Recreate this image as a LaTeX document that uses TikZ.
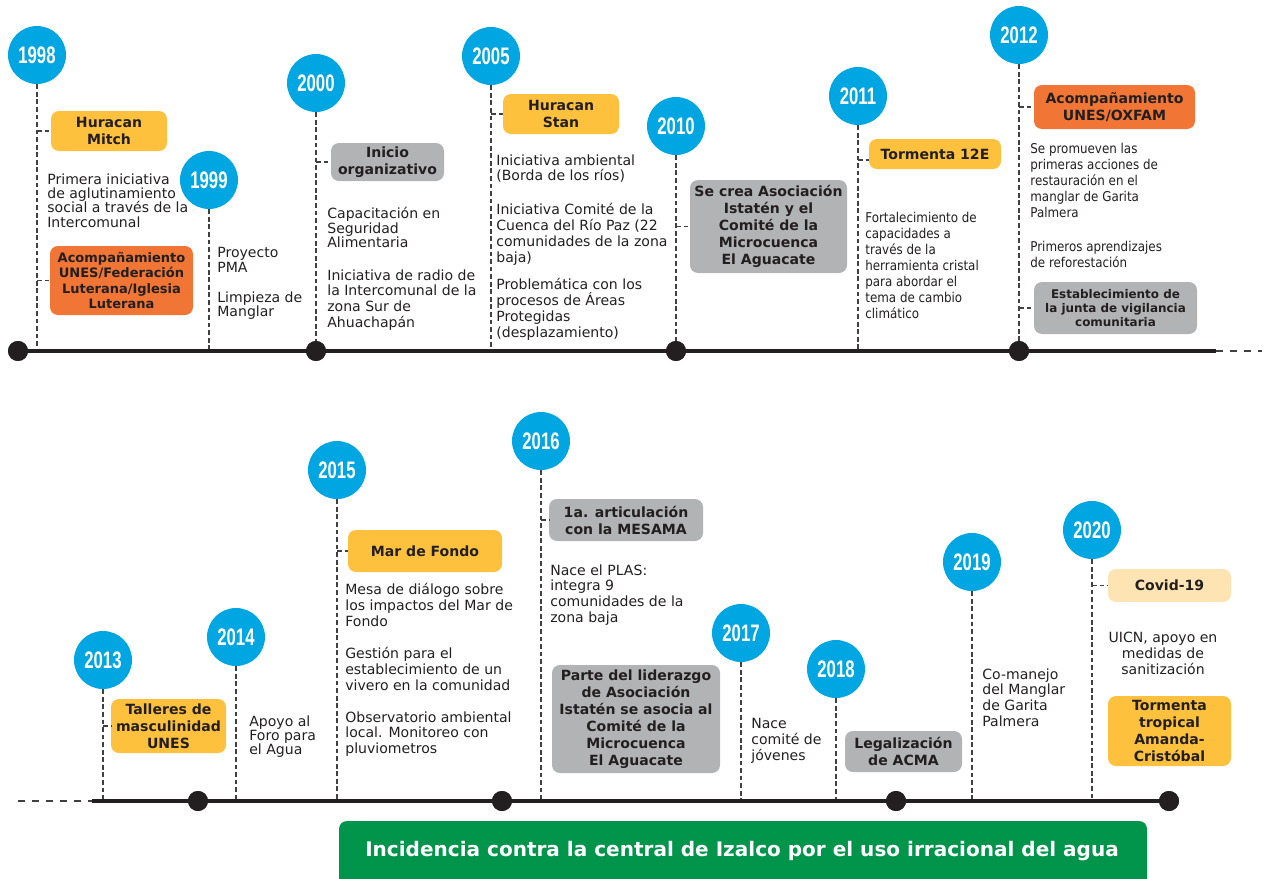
\documentclass[tikz,border=0pt]{standalone}
\usepackage{fontspec}
\usepackage{tikz}
\usepackage{xcolor}
\usetikzlibrary{positioning,calc}
\setmainfont{DejaVu Sans}
\newfontfamily\condfont[FakeStretch=0.88]{DejaVu Sans}
\newfontfamily\yearfont[FakeStretch=0.7]{Liberation Sans}

\definecolor{yearblue}{HTML}{00A6E1}
\definecolor{evyellow}{HTML}{FDC13E}
\definecolor{evorange}{HTML}{F17635}
\definecolor{evgray}{HTML}{B2B3B5}
\definecolor{evpeach}{HTML}{FEE3B3}
\definecolor{incgreen}{HTML}{00954B}
\definecolor{ink}{HTML}{231F20}
\definecolor{guidegray}{HTML}{404042}

\newcommand{\bodyfont}{\fontsize{8}{9}\selectfont}
\newcommand{\bodytight}{\fontsize{8}{8.2}\selectfont}
\newcommand{\bodycond}{\condfont\fontsize{7.7}{9.1}\selectfont}
\newcommand{\boxfont}{\bfseries\fontsize{8}{9.7}\selectfont}

\tikzset{
  year/.style={circle, fill=yearblue, minimum size=1.16cm, inner sep=0pt, text=white,
    font=\yearfont\bfseries\fontsize{13.6}{14}\selectfont},
  guide/.style={draw=guidegray, line width=0.75pt, dash pattern=on 2.7pt off 1.6pt},
  tline/.style={draw=ink, line width=2.3pt},
  dot/.style={circle, fill=ink, minimum size=0.4cm, inner sep=0pt},
  txt/.style={anchor=north west, align=left, inner sep=0pt, text=ink, font=\bodyfont},
  box/.style={rounded corners=0.16cm, align=center, inner sep=0pt, text=ink, font=\boxfont},
  boxsize/.style 2 args={minimum width=#1*0.02cm, minimum height=#2*0.02cm}
}

\begin{document}
\begin{tikzpicture}[x=0.02cm, y=-0.02cm]
\useasboundingbox (0,0) rectangle (1265,879);

% years and their guide lines
\foreach \yr/\x/\y/\base in {1998/37/55/351, 1999/209/180/351, 2000/316/83/351,
    2005/491/56/351, 2010/676/126/351, 2011/858/96/351, 2012/1019/35/351,
    2013/103/660/801, 2014/236/637/801, 2015/337/470/801, 2016/541/441/801,
    2017/741/633/801, 2018/836/669/801, 2019/972/562/801, 2020/1092/530/801} {
  \coordinate (b\yr) at (\x,\base);
  \node[year] (y\yr) at (\x,\y) {\yr};
  \draw[guide] (y\yr) -- (b\yr);
}

% timelines
\coordinate (tlend) at (1216,351);
\coordinate (tlfade) at (1262,351);
\coordinate (blstart) at (18,801);
\coordinate (blsolid) at (92,801);
\node[dot] (d1) at (18,351) {};
\node[dot] (d2) at (316,351) {};
\node[dot] (d3) at (676,351) {};
\node[dot] (d4) at (1019,351) {};
\node[dot] (d5) at (198,801) {};
\node[dot] (d6) at (502,801) {};
\node[dot] (d7) at (896,801) {};
\node[dot] (d8) at (1169,801) {};
\draw[tline] (d1.center) -- (tlend);
\draw[guide, line width=1.1pt, dash pattern=on 4pt off 4pt] (tlend) -- (tlfade);
\draw[guide, line width=1.1pt, dash pattern=on 4pt off 4pt] (blstart) -- (blsolid);
\draw[tline] (blsolid) -- (d8.center);
\foreach \d in {d1,d2,d3,d4,d5,d6,d7,d8} {
  \node[dot] at (\d) {};
}

% boxes
\node[box, fill=evyellow, boxsize={116}{40}] (mitch) at (109,131) {Huracan\\Mitch};
\node[box, fill=evorange, boxsize={143}{69}, font=\bfseries\fontsize{7.4}{8.9}\selectfont] (unesflu) at (121.5,280.5) {Acompañamiento\\UNES/Federación\\Luterana/Iglesia\\Luterana};
\node[box, fill=evgray, boxsize={113}{38}] (inicio) at (387.5,162) {Inicio\\organizativo};
\node[box, fill=evyellow, boxsize={116}{40}] (stan) at (561,114) {Huracan\\Stan};
\node[box, fill=evgray, boxsize={157}{93}] (istaten) at (768.5,226.5) {Se crea Asociación\\Istatén y el\\Comité de la\\Microcuenca\\El Aguacate};
\node[box, fill=evyellow, boxsize={132}{30}] (t12e) at (935,154) {Tormenta 12E};
\node[box, fill=evorange, boxsize={161}{44}] (oxfam) at (1114.5,107) {Acompañamiento\\UNES/OXFAM};
\node[box, fill=evgray, boxsize={163}{52}, font=\bfseries\fontsize{6.8}{7.9}\selectfont] (junta) at (1115.5,308) {Establecimiento de\\la junta de vigilancia\\comunitaria};
\node[box, fill=evyellow, boxsize={115}{54}] (talleres) at (168.5,726) {Talleres de\\masculinidad\\UNES};
\node[box, fill=evyellow, boxsize={154}{42}] (fondo) at (425,551) {Mar de Fondo};
\node[box, fill=evgray, boxsize={154}{42}] (mesama) at (626,520) {1a. articulación\\con la MESAMA};
\node[box, fill=evgray, boxsize={168}{108}] (liderazgo) at (636,719) {Parte del liderazgo\\de Asociación\\Istatén se asocia al\\Comité de la\\Microcuenca\\El Aguacate};
\node[box, fill=evgray, boxsize={117}{41}] (acma) at (903.5,751.5) {Legalización\\de ACMA};
\node[box, fill=evpeach, boxsize={123}{33}] (covid) at (1169.5,585.5) {Covid-19};
\node[box, fill=evyellow, boxsize={123}{70}] (amanda) at (1169.5,731) {Tormenta\\tropical\\Amanda-\\Cristóbal};

% box connectors
\coordinate (t12ein) at ([yshift=-0.12cm]t12e.west);
\draw[guide] (y1998 |- mitch.west) -- (mitch.west);
\draw[guide] (y1998 |- unesflu.west) -- (unesflu.west);
\draw[guide] (y2000 |- inicio.west) -- (inicio.west);
\draw[guide] (y2005 |- stan.west) -- (stan.west);
\draw[guide] (y2010 |- istaten.west) -- (istaten.west);
\draw[guide] (y2011 |- t12ein) -- (t12ein);
\draw[guide] (y2012 |- oxfam.west) -- (oxfam.west);
\draw[guide] (y2012 |- junta.west) -- (junta.west);
\draw[guide] (y2013 |- talleres.west) -- (talleres.west);
\draw[guide] (y2015 |- fondo.west) -- (fondo.west);
\draw[guide] (y2016 |- mesama.west) -- (mesama.west);
\draw[guide] (y2020 |- covid.west) -- (covid.west);

% texts
\node[txt, font=\bodytight] (tx98) at (47,173) {Primera iniciativa\\de aglutinamiento\\social a través de la\\Intercomunal};
\node[txt, font=\bodytight] (tx99a) at (217,247) {Proyecto\\PMA};
\node[txt, font=\fontsize{8}{8.5}\selectfont] (tx99b) at (217,291) {Limpieza de\\Manglar};
\node[txt, font=\bodytight] (tx00a) at (327,207) {Capacitación en\\Seguridad\\Alimentaria};
\node[txt] (tx00b) at (327,269) {Iniciativa de radio de\\la Intercomunal de la\\zona Sur de\\Ahuachapán};
\node[txt] (tx05a) at (496,154) {Iniciativa ambiental\\(Borda de los ríos)};
\node[txt] (tx05b) at (496,203) {Iniciativa Comité de la\\Cuenca del Río Paz (22\\comunidades de la zona\\baja)};
\node[txt] (tx05c) at (496,278) {Problemática con los\\procesos de Áreas\\Protegidas\\(desplazamiento)};
\node[txt, font=\bodycond] (tx11) at (865,212) {Fortalecimiento de\\capacidades a\\través de la\\herramienta cristal\\para abordar el\\tema de cambio\\climático};
\node[txt, font=\bodycond] (tx12a) at (1030,143) {Se promueven las\\primeras acciones de\\restauración en el\\manglar de Garita\\Palmera};
\node[txt, font=\bodycond] (tx12b) at (1030,241) {Primeros aprendizajes\\de reforestación};
\node[txt, font=\bodytight] (tx14) at (249,715) {Apoyo al\\Foro para\\el Agua};
\node[txt] (tx15a) at (345,583) {Mesa de diálogo sobre\\los impactos del Mar de\\Fondo};
\node[txt] (tx15b) at (345,647) {Gestión para el\\establecimiento de un\\vivero en la comunidad};
\node[txt] (tx15c) at (345,711) {Observatorio ambiental\\local. Monitoreo con\\pluviometros};
\node[txt] (tx16) at (550,564) {Nace el PLAS:\\integra 9\\comunidades de la\\zona baja};
\node[txt] (tx17) at (751,718) {Nace\\comité de\\jóvenes};
\node[txt] (tx19) at (982,668) {Co-manejo\\del Manglar\\de Garita\\Palmera};
\node[txt, anchor=north, align=center] (tx20) at (1163,632) {UICN, apoyo en\\medidas de\\sanitización};

% bottom bar
\fill[incgreen] (339,879) -- (339,829) arc[start angle=180, end angle=90, radius=0.16cm]
  -- (1139,821) arc[start angle=90, end angle=0, radius=0.16cm] -- (1147,879) -- cycle;
\node[text=white, font=\bfseries\fontsize{11.4}{12}\selectfont] (incidencia) at (742,851) {Incidencia contra la central de Izalco por el uso irracional del agua};
\end{tikzpicture}
\end{document}
